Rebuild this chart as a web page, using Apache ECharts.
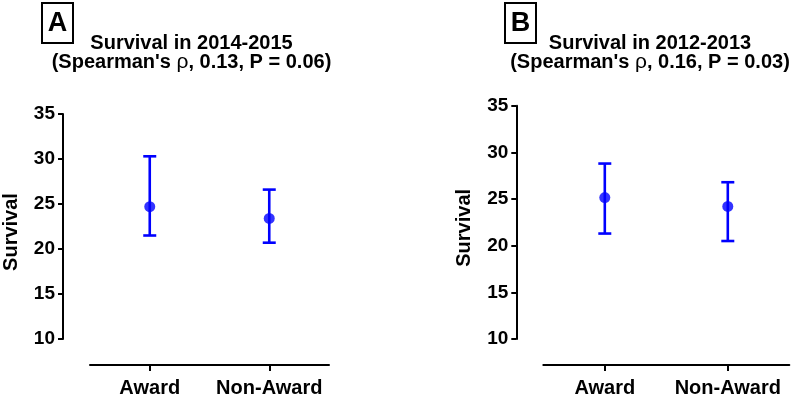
<!DOCTYPE html>
<html>
<head>
<meta charset="utf-8">
<script src="https://cdn.jsdelivr.net/npm/echarts@6/dist/echarts.min.js"></script>
<style>
  html, body { margin: 0; padding: 0; background: #fff; }
  #chart { width: 800px; height: 398px; }
</style>
</head>
<body>
<div id="chart"></div>
<script>
// data
const categories = ["Award", "Non-Award"];
const yTicks = [10, 15, 20, 25, 30, 35];

// panel A: 2014-2015
const meanA = [24.7, 23.4];
const lowA = [21.5, 20.7];
const highA = [30.3, 26.6];

// panel B: 2012-2013
const meanB = [25.15, 24.2];
const lowB = [21.3, 20.5];
const highB = [28.8, 26.8];

const BLUE = "#0000ff";
const FONT = "'Liberation Sans', Arial, sans-serif";

const chart = echarts.init(document.getElementById("chart"));

const yAxisFor = (gridIndex) => ({
  type: "value",
  gridIndex: gridIndex,
  min: yTicks[0],
  max: yTicks[yTicks.length - 1],
  interval: 5,
  offset: 27,
  name: "Survival",
  nameLocation: "middle",
  nameRotate: 90,
  nameGap: 42,
  nameTextStyle: {
    color: "#000",
    fontFamily: FONT,
    fontWeight: "bold",
    fontSize: 20,
    padding: [0, 11, 0, 0],
  },
  axisLine: { show: true, lineStyle: { color: "#000", width: 2 } },
  axisTick: { show: true, length: 5, lineStyle: { color: "#000", width: 2 } },
  axisLabel: {
    color: "#000",
    fontFamily: FONT,
    fontWeight: "bold",
    fontSize: 19,
    margin: 8,
  },
  splitLine: { show: false },
});

const xAxisFor = (gridIndex) => ({
  type: "category",
  gridIndex: gridIndex,
  data: categories,
  boundaryGap: true,
  offset: 26,
  axisLine: { show: true, lineStyle: { color: "#000", width: 2 } },
  axisTick: {
    show: true,
    alignWithLabel: true,
    length: 6,
    lineStyle: { color: "#000", width: 2 },
  },
  axisLabel: {
    color: "#000",
    fontFamily: FONT,
    fontWeight: "bold",
    fontSize: 20,
    margin: 13,
    interval: 0,
  },
  splitLine: { show: false },
});

// error bar with caps
const renderErrorBar = (params, api) => {
  const x = api.value(0);
  const lo = api.coord([x, api.value(1)]);
  const hi = api.coord([x, api.value(2)]);
  const hw = 6.5;
  const style = { stroke: BLUE, lineWidth: 2.6 };
  return {
    type: "group",
    children: [
      { type: "line", shape: { x1: lo[0], y1: lo[1], x2: hi[0], y2: hi[1] }, style: style },
      { type: "line", shape: { x1: hi[0] - hw, y1: hi[1], x2: hi[0] + hw, y2: hi[1] }, style: style },
      { type: "line", shape: { x1: lo[0] - hw, y1: lo[1], x2: lo[0] + hw, y2: lo[1] }, style: style },
    ],
  };
};

const seriesFor = (idx, mean, low, high) => [
  {
    type: "custom",
    xAxisIndex: idx,
    yAxisIndex: idx,
    renderItem: renderErrorBar,
    data: categories.map((c, i) => [i, low[i], high[i]]),
    z: 2,
  },
  {
    type: "scatter",
    xAxisIndex: idx,
    yAxisIndex: idx,
    symbol: "circle",
    symbolSize: 11,
    itemStyle: { color: BLUE },
    data: categories.map((c, i) => [i, mean[i]]),
    z: 3,
  },
];

const panelLabel = (letter, x, y) => [
  {
    type: "rect",
    shape: { x: x, y: y, width: 31, height: 40 },
    style: { fill: "none", stroke: "#000", lineWidth: 2 },
  },
  {
    type: "text",
    x: x + 15.5,
    y: y + 21,
    style: {
      text: letter,
      font: "bold 27px " + FONT,
      fill: "#000",
      align: "center",
      verticalAlign: "middle",
    },
  },
];

const titleLines = (cx, year, rho, p) => [
  {
    type: "text",
    x: cx,
    y: 43,
    style: {
      text: "Survival in " + year,
      font: "bold 20px " + FONT,
      fill: "#000",
      align: "center",
      verticalAlign: "middle",
    },
  },
  {
    type: "text",
    x: cx,
    y: 62,
    style: {
      text: "{b|(Spearman's }{r|ρ}{b|, " + rho + ", P = " + p + ")}",
      align: "center",
      verticalAlign: "middle",
      rich: {
        b: { font: "bold 20px " + FONT, fill: "#000" },
        r: { font: "normal 21px " + FONT, fill: "#000" },
      },
    },
  },
];

const option = {
  backgroundColor: "#fff",
  animation: false,
  grid: [
    { left: 89, top: 114, width: 240, height: 226.7 },
    { left: 543.3, top: 105.7, width: 246, height: 233.6 },
  ],
  xAxis: [xAxisFor(0), xAxisFor(1)],
  yAxis: [yAxisFor(0), yAxisFor(1)],
  series: [
    ...seriesFor(0, meanA, lowA, highA),
    ...seriesFor(1, meanB, lowB, highB),
  ],
  graphic: [
    ...panelLabel("A", 42, 3),
    ...panelLabel("B", 505, 3),
    ...titleLines(191.5, "2014-2015", "0.13", "0.06"),
    ...titleLines(650, "2012-2013", "0.16", "0.03"),
  ],
};

chart.setOption(option);
</script>
</body>
</html>
